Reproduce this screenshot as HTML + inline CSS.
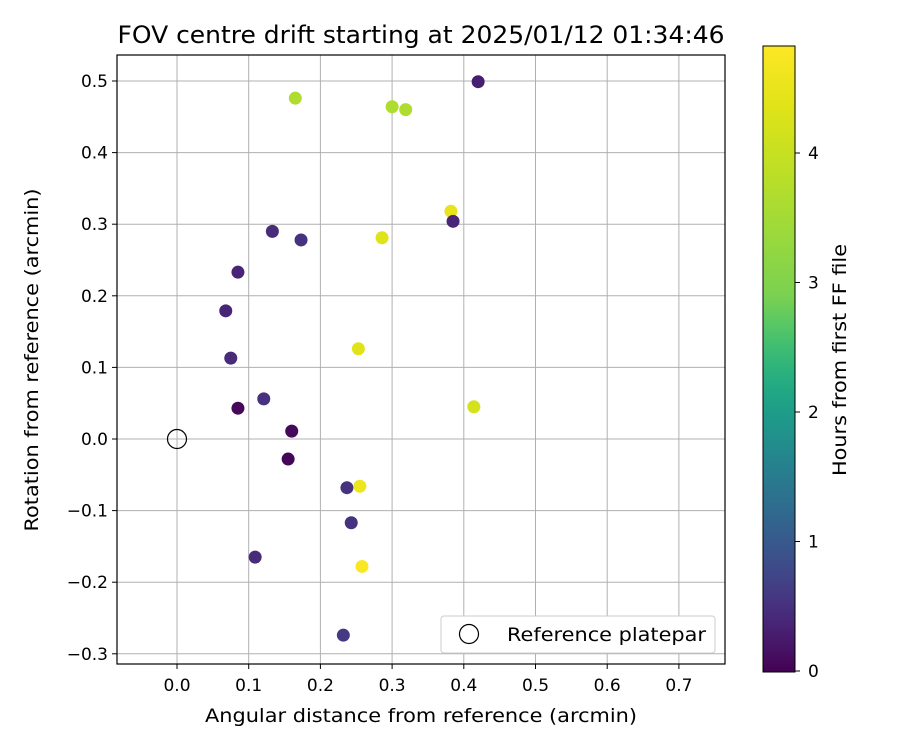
<!DOCTYPE html>
<html><head><meta charset="utf-8"><style>
body{margin:0;background:#fff;font-family:"Liberation Sans","DejaVu Sans",sans-serif;}
svg text{font-family:"DejaVu Sans","Liberation Sans",sans-serif;}
</style></head><body>
<svg id="chart" width="900" height="750" xmlns="http://www.w3.org/2000/svg">
<defs><linearGradient id="vir" x1="0" y1="1" x2="0" y2="0">
<stop offset="0" stop-color="#440154"/><stop offset="0.0625" stop-color="#471365"/><stop offset="0.125" stop-color="#482475"/><stop offset="0.1875" stop-color="#463480"/><stop offset="0.25" stop-color="#414487"/><stop offset="0.3125" stop-color="#3b528b"/><stop offset="0.375" stop-color="#355f8d"/><stop offset="0.4375" stop-color="#2f6c8e"/><stop offset="0.5" stop-color="#2a788e"/><stop offset="0.5625" stop-color="#25848e"/><stop offset="0.625" stop-color="#21918c"/><stop offset="0.6875" stop-color="#1e9c89"/><stop offset="0.75" stop-color="#22a884"/><stop offset="0.8125" stop-color="#2fb47c"/><stop offset="0.875" stop-color="#44bf70"/><stop offset="0.9375" stop-color="#5ec962"/><stop offset="1" stop-color="#7ad151"/></linearGradient>
<linearGradient id="vir2" x1="0" y1="1" x2="0" y2="0"><stop offset="0" stop-color="#7ad151"/><stop offset="0.25" stop-color="#9bd93c"/><stop offset="0.5" stop-color="#bddf26"/><stop offset="0.75" stop-color="#dfe318"/><stop offset="1" stop-color="#fde725"/></linearGradient></defs>
<rect width="900" height="750" fill="#fff"/>
<text x="421" y="43" font-size="24" text-anchor="middle" textLength="607" lengthAdjust="spacingAndGlyphs">FOV centre drift starting at 2025/01/12 01:34:46</text>
<g id="grid"></g><g id="pts"></g>
<rect x="117" y="55" width="608" height="609" fill="none" stroke="#000" stroke-width="1.2"/>
<text x="421" y="722" font-size="19" text-anchor="middle" textLength="432" lengthAdjust="spacingAndGlyphs">Angular distance from reference (arcmin)</text>
<text transform="translate(38,360) rotate(-90)" font-size="19" text-anchor="middle" textLength="343" lengthAdjust="spacingAndGlyphs">Rotation from reference (arcmin)</text>
<g>
<rect x="441" y="616" width="274" height="37" rx="3" fill="#fff" stroke="#ccc"/>
<circle cx="469" cy="634" r="9.5" fill="none" stroke="#000" stroke-width="1.2"/>
<text x="507" y="641" font-size="19" textLength="199" lengthAdjust="spacingAndGlyphs">Reference platepar</text></g>
<g>
<rect x="763" y="296" width="32" height="376" fill="url(#vir)"/>
<rect x="763" y="46" width="32" height="251" fill="url(#vir2)"/>
<rect x="763" y="46" width="32" height="626" fill="none" stroke="#000" stroke-width="1"/></g>
<g id="cb"></g>
<text transform="translate(846,360) rotate(-90)" font-size="19" text-anchor="middle" textLength="232" lengthAdjust="spacingAndGlyphs">Hours from first FF file</text>
</svg>
<script>
const xTicks=[0.0,0.1,0.2,0.3,0.4,0.5,0.6,0.7];
const yTicks=[-0.3,-0.2,-0.1,0.0,0.1,0.2,0.3,0.4,0.5];
const cbTicks=[0,1,2,3,4];
const xs=[0.42,0.165,0.300,0.319,0.382,0.385,0.133,0.173,0.286,0.085,0.068,0.075,0.253,0.121,0.085,0.414,0.160,0.155,0.237,0.255,0.243,0.109,0.258,0.232];
const ys=[0.499,0.476,0.464,0.460,0.318,0.304,0.290,0.278,0.281,0.233,0.179,0.113,0.126,0.056,0.043,0.045,0.011,-0.028,-0.068,-0.066,-0.117,-0.165,-0.178,-0.274];
const hours=[0.4,4.25,4.25,4.25,4.65,0.5,0.6,0.7,4.6,0.5,0.5,0.6,4.6,0.7,0.1,4.5,0.1,0.05,0.7,4.7,0.7,0.6,4.8,0.8];
const hMax=4.83;
const X=v=>177+v*717, Y=v=>439-v*716, CB=h=>671-h*129.5;
const vir=[[68,1,84],[71,19,101],[72,36,117],[70,52,128],[65,68,135],[59,82,139],[53,95,141],[47,108,142],[42,120,142],[37,132,142],[33,145,140],[30,156,137],[34,168,132],[47,180,124],[68,191,112],[94,201,98],[122,209,81],[155,217,60],[189,223,38],[223,227,24],[253,231,37]];
function col(h){let t=Math.max(0,Math.min(1,h/hMax))*20,i=Math.min(19,Math.floor(t)),f=t-i;
return 'rgb('+vir[i].map((c,k)=>Math.round(c+(vir[i+1][k]-c)*f)).join(',')+')';}
const NS='http://www.w3.org/2000/svg';
function mk(p,t,a){const e=document.createElementNS(NS,t);for(const k in a)e.setAttribute(k,a[k]);p.appendChild(e);return e;}
const g=document.getElementById('grid');
xTicks.forEach(v=>{
const l=mk(g,'line',{x1:X(v),x2:X(v),y1:55,y2:664,stroke:'#b0b0b0'});


mk(g,'line',{x1:X(v),x2:X(v),y1:664,y2:669,stroke:'#000'});
const t=mk(g,'text',{x:X(v),y:691,'font-size':17,'text-anchor':'middle'});t.textContent=v.toFixed(1);

});
yTicks.forEach(v=>{
const l=mk(g,'line',{x1:117,x2:725,y1:Y(v),y2:Y(v),stroke:'#b0b0b0'});


mk(g,'line',{x1:112,x2:117,y1:Y(v),y2:Y(v),stroke:'#000'});
const t=mk(g,'text',{x:108,y:Y(v)+6,'font-size':17,'text-anchor':'end'});t.textContent=(v<0?'\u2212':'')+Math.abs(v).toFixed(1);

});
const p=document.getElementById('pts');
const r=mk(p,'circle',{cx:X(0),cy:Y(0),r:9.5,fill:'none',stroke:'#000','stroke-width':1.2});


xs.forEach((v,i)=>{const c=mk(p,'circle',{cx:X(v),cy:Y(ys[i]),r:6.5,fill:col(hours[i])});

});
const cb=document.getElementById('cb');
cbTicks.forEach(v=>{mk(cb,'line',{x1:795,x2:800,y1:CB(v),y2:CB(v),stroke:'#000'});
const t=mk(cb,'text',{x:808,y:CB(v)+6,'font-size':17});t.textContent=v;

});
</script>
</body></html>
